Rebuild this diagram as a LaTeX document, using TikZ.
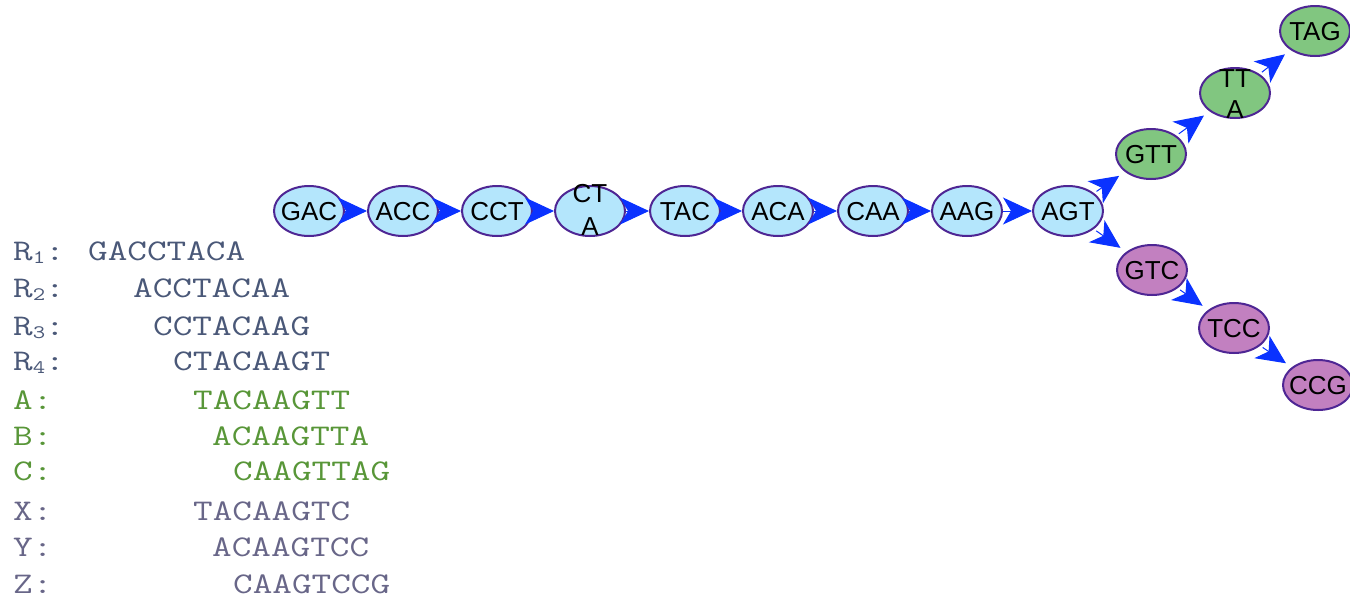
\documentclass[tikz,border=0pt]{standalone}
\usepackage{fontspec}
\setmainfont{Liberation Sans}
\usetikzlibrary{arrows.meta,shapes.geometric}
\definecolor{nodeblue}{RGB}{180,230,252}
\definecolor{nodegreen}{RGB}{129,198,128}
\definecolor{nodepurple}{RGB}{194,128,192}
\definecolor{nodeborder}{RGB}{78,38,148}
\definecolor{arrowblue}{RGB}{10,50,255}
\definecolor{seqgray}{RGB}{74,88,120}
\definecolor{seqgreen}{RGB}{88,150,56}
\definecolor{seqpurple}{RGB}{104,102,136}
\newcommand{\seqtxt}[1]{\scalebox{1.27}[1]{\ttfamily\fontsize{30}{30}\selectfont #1}}
\newcommand{\rsub}[1]{\raisebox{-3pt}{\fontsize{19}{19}\selectfont #1}}
\newcommand{\kt}[1]{\makebox[0pt]{\raisebox{-9pt}[0pt][0pt]{#1}}}
\newcommand{\twolines}[4]{\makebox[0pt]{\raisebox{#3}[0pt][0pt]{#1}}\makebox[0pt]{\raisebox{#4}[0pt][0pt]{#2}}}
\tikzset{
  kmer/.style={ellipse, draw=nodeborder, line width=2pt, minimum width=70pt, minimum height=50pt, inner sep=0pt, font=\fontsize{26}{26}\selectfont, text=black},
  kblue/.style={kmer, fill=nodeblue},
  kgreen/.style={kmer, fill=nodegreen},
  kpurple/.style={kmer, fill=nodepurple},
  edgearrow/.style={draw=arrowblue, line width=1pt, -{Stealth[length=29pt,width=27pt,inset=8pt]}, fill=arrowblue},
  diagarrow/.style={edgearrow, shorten >=7pt, shorten <=3pt},
  seq/.style={anchor=base west, inner sep=0pt},
}
\begin{document}
\begin{tikzpicture}[x=1pt,y=-1pt]
\useasboundingbox (0,0) rectangle (1350,598);
% nodes
\node[kblue] (gac) at (309,211) {\kt{GAC}};
\node[kblue] (acc) at (403,211) {\kt{ACC}};
\node[kblue] (cct) at (497,211) {\kt{CCT}};
\node[kblue] (cta) at (590,211) {\twolines{CT}{A}{9pt}{-24pt}};
\node[kblue] (tac) at (685,211) {\kt{TAC}};
\node[kblue] (aca) at (778,211) {\kt{ACA}};
\node[kblue] (caa) at (873,211) {\kt{CAA}};
\node[kblue] (aag) at (967,211) {\kt{AAG}};
\node[kblue] (agt) at (1068,211) {\kt{AGT}};
\node[kgreen] (gtt) at (1151,154) {\kt{GTT}};
\node[kgreen] (tta) at (1235,93) {\twolines{TT}{A}{6pt}{-25pt}};
\node[kgreen] (tag) at (1315,31) {\kt{TAG}};
\node[kpurple] (gtc) at (1152,270) {\kt{GTC}};
\node[kpurple] (tcc) at (1234,328) {\kt{TCC}};
\node[kpurple] (ccg) at (1318,385) {\kt{CCG}};
% edges
\draw[edgearrow] (gac) -- (acc);
\draw[edgearrow] (acc) -- (cct);
\draw[edgearrow] (cct) -- (cta);
\draw[edgearrow] (cta) -- (tac);
\draw[edgearrow] (tac) -- (aca);
\draw[edgearrow] (aca) -- (caa);
\draw[edgearrow] (caa) -- (aag);
\draw[edgearrow] (aag) -- (agt);
\draw[diagarrow] (agt) -- (gtt);
\draw[diagarrow] (gtt) -- (tta);
\draw[diagarrow] (tta) -- (tag);
\draw[diagarrow] (agt) -- (gtc);
\draw[diagarrow] (gtc) -- (tcc);
\draw[diagarrow] (tcc) -- (ccg);
% reads
\node[seq,text=seqgray] (l1) at (13,260) {\seqtxt{R\rsub{1}:}};
\node[seq,text=seqgray] (s1) at (88,260) {\seqtxt{GACCTACA}};
\node[seq,text=seqgray] (l2) at (13,297) {\seqtxt{R\rsub{2}:}};
\node[seq,text=seqgray] (s2) at (133,297) {\seqtxt{ACCTACAA}};
\node[seq,text=seqgray] (l3) at (13,335) {\seqtxt{R\rsub{3}:}};
\node[seq,text=seqgray] (s3) at (153,335) {\seqtxt{CCTACAAG}};
\node[seq,text=seqgray] (l4) at (13,370) {\seqtxt{R\rsub{4}:}};
\node[seq,text=seqgray] (s4) at (173,370) {\seqtxt{CTACAAGT}};
\node[seq,text=seqgreen] (la) at (13,409) {\seqtxt{A:}};
\node[seq,text=seqgreen] (sa) at (193,409) {\seqtxt{TACAAGTT}};
\node[seq,text=seqgreen] (lb) at (13,445) {\seqtxt{B:}};
\node[seq,text=seqgreen] (sb) at (212,445) {\seqtxt{ACAAGTTA}};
\node[seq,text=seqgreen] (lc) at (13,480) {\seqtxt{C:}};
\node[seq,text=seqgreen] (sc) at (233,480) {\seqtxt{CAAGTTAG}};
\node[seq,text=seqpurple] (lx) at (13,520) {\seqtxt{X:}};
\node[seq,text=seqpurple] (sx) at (193,520) {\seqtxt{TACAAGTC}};
\node[seq,text=seqpurple] (ly) at (13,556) {\seqtxt{Y:}};
\node[seq,text=seqpurple] (sy) at (212,556) {\seqtxt{ACAAGTCC}};
\node[seq,text=seqpurple] (lz) at (13,593) {\seqtxt{Z:}};
\node[seq,text=seqpurple] (sz) at (233,593) {\seqtxt{CAAGTCCG}};
\end{tikzpicture}
\end{document}
